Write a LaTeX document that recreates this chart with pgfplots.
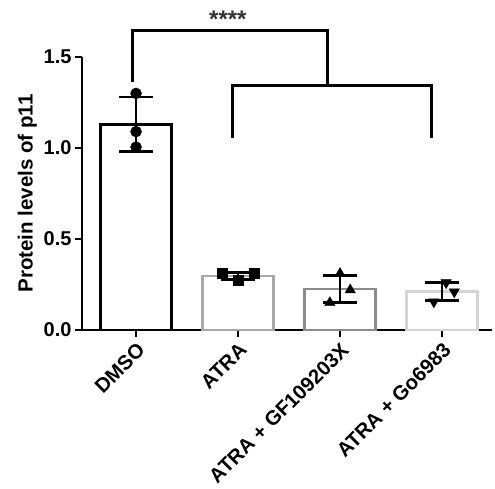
\documentclass[border=0pt]{standalone}
\usepackage{pgfplots}
\pgfplotsset{compat=1.18}
\usepackage{fontspec}
\setmainfont{Liberation Sans}
\definecolor{atra}{HTML}{A8A8A8}
\definecolor{gf}{HTML}{8C8C8C}
\definecolor{go}{HTML}{D4D4D4}
\begin{document}
\begin{tikzpicture}
\begin{axis}[
 at={(0,0)}, anchor=south west,
 scale only axis, width=410pt, height=273pt,
 xmin=-0.53, xmax=3.49, ymin=0, ymax=1.5,
 axis lines*=left,
 axis line style={line width=2.8pt},
 tick style={line width=2.8pt, black},
 major tick length=7pt,
 tick align=outside,
 xtick={0,1,2,3},
 xticklabels={DMSO,ATRA,ATRA + GF109203X,ATRA + Go6983},
 ytick={0,0.5,1.0,1.5},
 yticklabel style={font=\fontsize{20}{24}\selectfont\bfseries, /pgf/number format/.cd, fixed, fixed zerofill, precision=1, assume math mode=true},
 xticklabel style={font=\fontsize{20.3}{24}\selectfont\bfseries, rotate=45, anchor=north east, inner sep=3pt},
 ylabel={Protein levels of p11},
 ylabel style={font=\fontsize{20.5}{24}\selectfont\bfseries},
 clip=false,
]
\addplot[ybar, bar width=0.69, bar shift=0pt, draw=black, fill=white, line width=2.8pt] coordinates {(0,1.13)};
\addplot[ybar, bar width=0.69, bar shift=0pt, draw=atra, fill=white, line width=2.8pt] coordinates {(1,0.297)};
\addplot[ybar, bar width=0.69, bar shift=0pt, draw=gf, fill=white, line width=2.8pt] coordinates {(2,0.225)};
\addplot[ybar, bar width=0.69, bar shift=0pt, draw=go, fill=white, line width=2.8pt] coordinates {(3,0.213)};
% error bars
\addplot[draw=none, mark=none, error bars/.cd, y dir=both, y explicit,
  error bar style={solid, draw=black, line width=2.8pt},
  error mark options={rotate=90, mark size=17pt, line width=2.8pt, draw=black}]
  coordinates {(0,1.13) +- (0,0.15) (1,0.297) +- (0,0.02) (2,0.225) +- (0,0.075) (3,0.213) +- (0,0.05)};
% points
\addplot[only marks, mark=*, mark size=5.5pt, black] coordinates {(0,1.30) (0,1.09) (0,1.005)};
\addplot[only marks, mark=square*, mark size=5pt, black] coordinates {(0.84,0.31) (1,0.275) (1.16,0.31)};
\addplot[only marks, mark=triangle*, mark size=6pt, black] coordinates {(2,0.31) (2.1,0.22) (1.9,0.15)};
\addplot[only marks, mark=triangle*, mark size=6pt, black, mark options={rotate=180}] coordinates {(3.04,0.26) (3.12,0.21) (2.92,0.155)};
% significance brackets
\draw[line width=3pt] (axis cs:-0.03,1.363) -- (axis cs:-0.03,1.648) -- (axis cs:1.88,1.648) -- (axis cs:1.88,1.346);
\draw[line width=3pt] (axis cs:0.95,1.055) -- (axis cs:0.95,1.346) -- (axis cs:2.90,1.346) -- (axis cs:2.90,1.055);
\node[font=\fontsize{24}{26}\selectfont\bfseries, text=black!80] at (axis cs:0.90,1.71) {****};
\end{axis}
\pgfresetboundingbox
\path (-82pt,-158pt) rectangle (413pt,330pt);
\end{tikzpicture}
\end{document}
